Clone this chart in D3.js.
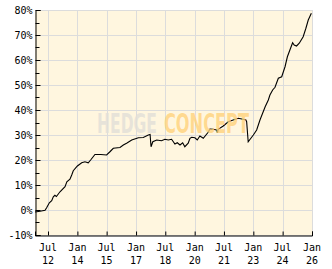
<!DOCTYPE html>
<html>
<head>
<meta charset="utf-8">
<script src="https://cdn.jsdelivr.net/npm/d3@7"></script>
<style>
  body { margin: 0; background: #fff; }
  svg text { font-family: "DejaVu Sans Mono", monospace; font-size: 10px; }
</style>
</head>
<body>
<div id="chart"></div>
<script>
(function() {
  // performance series (cumulative %)
  var dates = ['2011-11-01','2012-02-01','2012-05-07','2012-06-05','2012-07-26','2012-09-08','2012-10-08','2012-11-06','2012-12-05',
    '2013-02-10','2013-05-15','2013-06-18','2013-08-15','2013-09-17','2013-10-16','2014-01-01','2014-03-22','2014-05-22','2014-07-23',
    '2014-09-05','2014-11-25','2015-03-15','2015-07-01','2015-09-01','2015-11-03','2016-03-07','2016-05-08','2016-07-08','2016-10-12',
    '2017-02-14','2017-05-16','2017-08-18','2017-09-20','2017-10-08','2017-11-10','2018-01-22','2018-04-22','2018-06-24','2018-08-25',
    '2018-10-27','2018-12-28','2019-02-10','2019-04-02','2019-05-22','2019-07-01','2019-09-02','2019-10-05','2019-11-06','2020-01-05',
    '2020-02-18','2020-04-08','2020-06-10','2020-09-09','2020-10-12','2020-12-13','2021-02-13','2021-03-03','2021-03-14','2021-06-18',
    '2021-09-20','2021-12-20','2022-03-25','2022-06-25','2022-08-15','2022-08-29','2022-09-27','2023-01-01','2023-03-04','2023-05-05',
    '2023-08-10','2023-10-08','2023-11-07','2023-12-28','2024-02-10','2024-04-12','2024-06-14','2024-08-15','2024-09-28','2024-11-14',
    '2025-01-04','2025-02-02','2025-03-18','2025-05-08','2025-07-20','2025-09-09','2025-10-23','2025-12-20'];
  var values = [-0.8,-0.5,-0.1,0.9,2.9,3.7,5.3,5.9,5.4,
    7.3,9.3,11.3,12.3,14.0,15.7,17.6,18.9,19.3,18.9,
    20.0,22.2,22.2,22.0,23.3,24.7,25.0,26.0,26.7,28.0,
    28.9,29.0,30.0,30.2,25.3,27.3,28.0,27.7,28.3,28.0,
    28.3,26.4,26.9,26.0,26.9,25.3,26.7,28.7,29.1,28.9,
    28.0,29.6,28.7,31.1,32.4,32.3,32.0,30.9,32.3,33.6,
    35.3,36.0,36.7,36.3,36.0,35.3,27.3,30.0,32.0,36.0,
    41.3,44.0,46.0,48.0,49.1,52.7,53.3,57.3,61.3,64.0,
    66.9,66.0,65.6,66.7,69.3,72.7,76.0,78.7];

  var xTicks = ['2012-07-01','2014-01-01','2015-07-01','2017-01-01','2018-07-01','2020-01-01','2021-07-01','2023-01-01','2024-07-01','2026-01-01'];
  var yTicks = [-10,0,10,20,30,40,50,60,70,80];
  var yMinor = [-5,5,15,25,35,45,55,65,75];

  var W = 332, H = 269;
  var left = 35, right = 312, top = 10, bottom = 235;

  var parse = d3.timeParse('%Y-%m-%d');
  var data = dates.map(function(d, i) { return { date: parse(d), value: values[i] }; });

  var x = d3.scaleTime().domain([parse('2011-11-01'), parse('2026-01-01')]).range([left, right]);
  var y = d3.scaleLinear().domain([-10, 80]).range([bottom, top]);

  var svg = d3.select('#chart').append('svg').attr('width', W).attr('height', H);

  svg.append('rect')
    .attr('x', left).attr('y', top)
    .attr('width', right - left).attr('height', bottom - top)
    .attr('fill', '#fff6df');

  // grid
  var grid = svg.append('g').attr('stroke', '#dcdcdc').attr('shape-rendering', 'crispEdges');
  grid.selectAll('line.h').data(yTicks).enter().append('line')
    .attr('x1', left).attr('x2', right)
    .attr('y1', function(d) { return y(d) + 0.5; }).attr('y2', function(d) { return y(d) + 0.5; });
  grid.selectAll('line.v').data(xTicks).enter().append('line')
    .attr('y1', top).attr('y2', bottom)
    .attr('x1', function(d) { return Math.round(x(parse(d))) + 0.5; })
    .attr('x2', function(d) { return Math.round(x(parse(d))) + 0.5; });

  // series
  var line = d3.line()
    .x(function(d) { return x(d.date); })
    .y(function(d) { return y(d.value); });
  svg.append('path').datum(data)
    .attr('d', line)
    .attr('fill', 'none')
    .attr('stroke', '#000')
    .attr('stroke-width', 1.1);

  // watermark: squeeze each word horizontally to its width in the picture
  function mark(word, x0, w, fill, op) {
    var g = svg.append('g');
    var t = g.append('text')
      .style('font-family', '"DejaVu Sans Condensed", "DejaVu Sans", sans-serif')
      .style('font-weight', 'bold')
      .style('font-size', '26px')
      .attr('fill', fill).attr('fill-opacity', op)
      .text(word);
    var k = w / t.node().getComputedTextLength();
    g.attr('transform', 'translate(' + x0 + ',133) scale(' + k + ',1)');
  }
  mark('HEDGE', 97, 60, '#e3e0d8', 0.85);
  mark('CONCEPT', 164, 85, '#ffd27a', 0.8);

  // axes
  var yAxis = d3.axisLeft(y).tickValues(yTicks).tickSize(-5).tickPadding(8)
    .tickFormat(function(d) { return d + '%'; });
  var gy = svg.append('g').attr('transform', 'translate(' + (left + 0.5) + ',0)').call(yAxis);
  gy.select('.domain').attr('stroke', '#000');
  gy.selectAll('.tick text').style('font-family', '"DejaVu Sans Mono", monospace').attr('fill', '#000').attr('x', -3);
  gy.selectAll('line.minor').data(yMinor).enter().append('line')
    .attr('class', 'minor').attr('stroke', '#000')
    .attr('x1', 0).attr('x2', 4)
    .attr('y1', function(d) { return Math.round(y(d)) + 0.5; })
    .attr('y2', function(d) { return Math.round(y(d)) + 0.5; });

  var xAxis = d3.axisBottom(x).tickValues(xTicks.map(parse)).tickSize(-4).tickFormat('');
  var gx = svg.append('g').attr('transform', 'translate(0,' + (bottom + 0.5) + ')').call(xAxis);
  gx.select('.domain').attr('stroke', '#000');

  var fmtMon = d3.timeFormat('%b'), fmtYr = d3.timeFormat('%y');
  var lbl = svg.append('g').attr('text-anchor', 'middle').attr('fill', '#000');
  lbl.selectAll('text.m').data(xTicks).enter().append('text')
    .attr('x', function(d) { return x(parse(d)); }).attr('y', 251)
    .text(function(d) { return fmtMon(parse(d)); });
  lbl.selectAll('text.yr').data(xTicks).enter().append('text')
    .attr('x', function(d) { return x(parse(d)); }).attr('y', 264)
    .text(function(d) { return fmtYr(parse(d)); });
})();
</script>
</body>
</html>
